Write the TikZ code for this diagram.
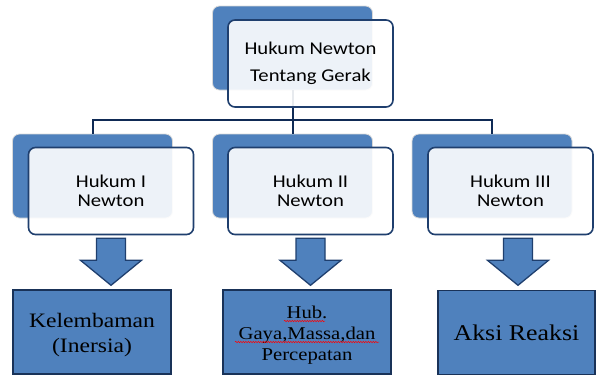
\documentclass[tikz,border=0pt]{standalone}
\usepackage{fontspec}
\usetikzlibrary{calc,decorations.pathmorphing}
\setmainfont{Liberation Serif}[FakeStretch=1.15]
\newfontfamily\labelfont{Carlito}[FakeStretch=1.15]

\definecolor{boxblue}{HTML}{4F81BD}
\definecolor{edgenavy}{HTML}{1F3F6E}
\definecolor{linknavy}{HTML}{0F2A55}

\begin{document}
\begin{tikzpicture}[x=1pt,y=-1pt,
  backbox/.style={rounded corners=7pt,fill=boxblue,draw=black!15,line width=0.8pt,
    minimum width=160pt,minimum height=84pt},
  frontbox/.style={rounded corners=7pt,fill=white,fill opacity=0.9,text opacity=1,
    draw=edgenavy,line width=1.6pt,minimum width=165pt,minimum height=87pt,align=center,
    font=\labelfont\fontsize{18}{19}\selectfont},
  resultbox/.style={fill=boxblue,draw=edgenavy!80!black,line width=1.4pt,
    minimum height=84pt,align=center},
  link/.style={draw=linknavy,line width=2pt},
  blockarrow/.style={fill=boxblue,draw=edgenavy,line width=1.3pt,line join=miter},
  spellwave/.style={draw=red,line width=0.5pt,decorate,
    decoration={snake,amplitude=0.7pt,segment length=2.5pt}}]
\useasboundingbox (0,0) rectangle (612,389);

% back panels
\node[backbox] (rootback) at (292.5,48) {};
\node[backbox] (law1back) at (92.5,176) {};
\node[backbox] (law2back) at (292.5,176) {};
\node[backbox] (law3back) at (492,176) {};

% tree lines
\coordinate (bus) at (0,120);
\draw[link] (rootback.south) -- (rootback.south |- bus);
\draw[link] (law1back.north) |- (law3back.north |- bus) -- (law3back.north);
\draw[link] (law2back.north) -- (law2back.north |- bus);

% front panels
\node[frontbox,font=\labelfont\fontsize{18}{27}\selectfont] (root) at ([shift={(18,15.5)}]rootback) {Hukum Newton\\Tentang Gerak};
\node[frontbox] (law1) at ([shift={(18.5,15)}]law1back) {Hukum I\\Newton};
\node[frontbox] (law2) at ([shift={(18,15)}]law2back) {Hukum II\\Newton};
\node[frontbox] (law3) at ([shift={(18.5,15)}]law3back) {Hukum III\\Newton};

% results
\node[resultbox,minimum width=158pt,font=\fontsize{20.5}{25}\selectfont] (eff1) at (92,332) {\rule{0pt}{20.6pt}Kelembaman\\(Inersia)};
\node[resultbox,minimum width=168pt,font=\fontsize{18}{21}\selectfont] (eff2) at (307,332) {\rule{0pt}{17.9pt}Hub.\\Gaya,Massa,dan\\Percepatan};
\node[resultbox,minimum width=157pt,font=\fontsize{22.5}{26}\selectfont] (eff3) at (516.5,332.5) {Aksi Reaksi};

% red spelling marks
\draw[spellwave] ([shift={(-23,-11)}]eff2.center) -- ([shift={(18,-11)}]eff2.center);
\draw[spellwave] ([shift={(-72,10)}]eff2.center) -- ([shift={(72,10)}]eff2.center);

% block arrows
\foreach \i/\dx in {1/0,2/0,3/7.5}{
  \coordinate (a\i) at ([xshift=\dx pt,yshift=-3pt]law\i.south);
  \draw[blockarrow] (a\i) ++(-14.5,0) -- ++(0,22) -- ++(-16,0) -- ++(30.5,25)
    -- ++(30.5,-25) -- ++(-16,0) -- ++(0,-22) -- cycle;
}
\end{tikzpicture}
\end{document}
